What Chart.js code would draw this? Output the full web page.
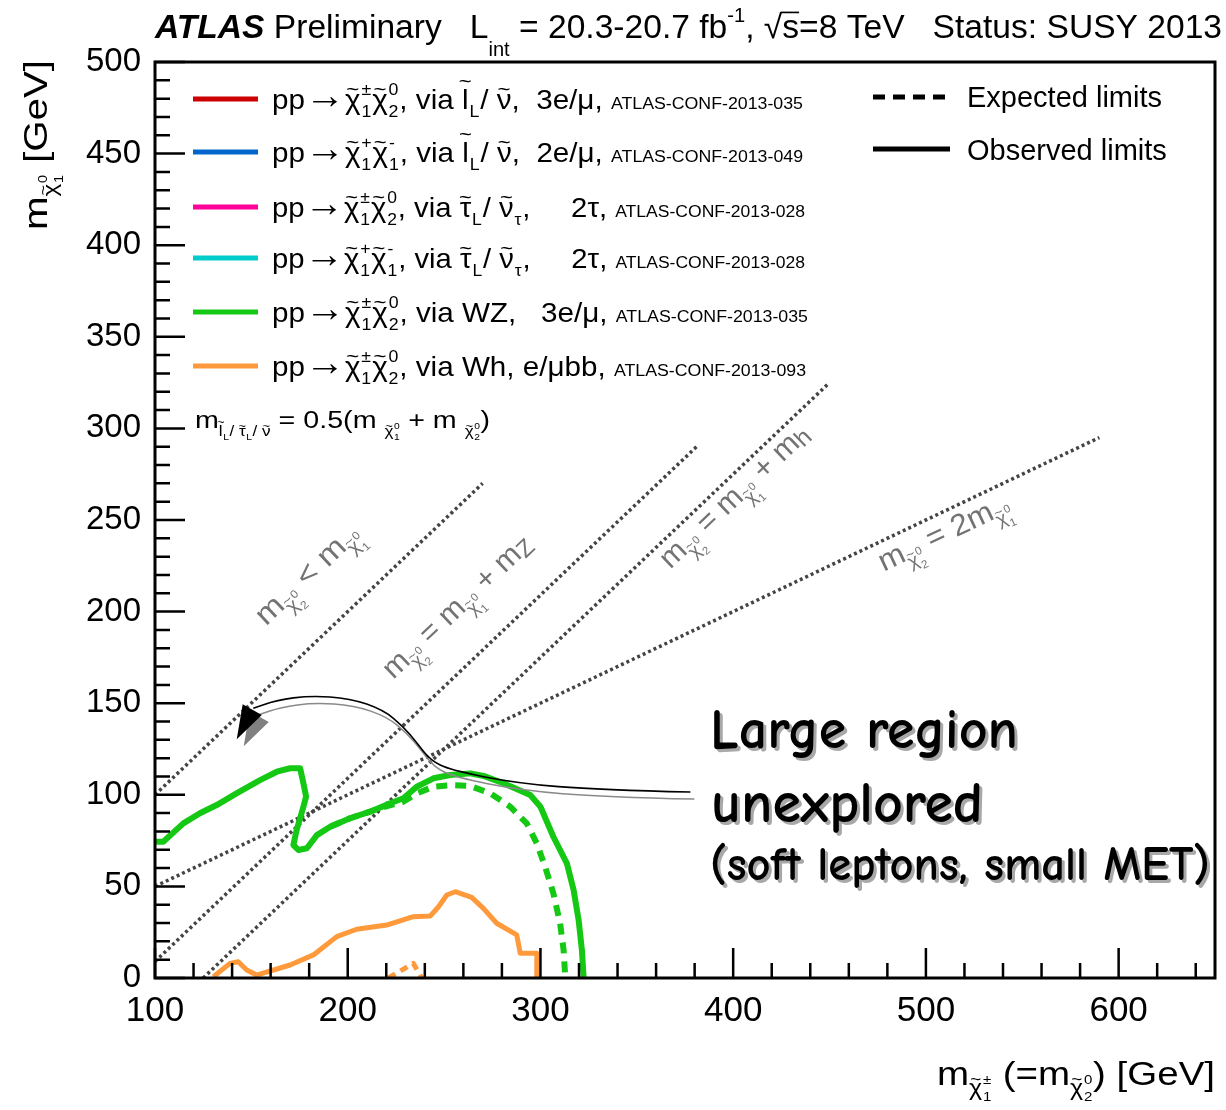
<!DOCTYPE html>
<html>
<head>
<meta charset="utf-8">
<title>Electroweak SUSY limits</title>
<script src="https://cdn.jsdelivr.net/npm/chart.js@4.4.0/dist/chart.umd.min.js"></script>
<style>
  html, body { margin: 0; padding: 0; background: #fff; }
  canvas { display: block; }
</style>
</head>
<body>
<canvas id="limits" width="1226" height="1110"></canvas>
<script>
// exclusion contours, x = chargino mass, y = LSP mass [GeV]
const wzObserved = [[100, 74.4], [104.3, 74.4], [114.7, 84.4], [123.3, 89.9], [132, 94.4], [142.3, 100.8], [154.5, 108], [163.2, 112.6], [170.1, 114.5], [175.3, 114.5], [177, 106.3], [178.4, 99], [177, 93.5], [173.5, 80.8], [171.8, 72.6], [174.4, 69.9], [178.8, 70.8], [184, 78], [190.9, 82.6], [201.2, 87.2], [211.6, 90.8], [222, 95.4], [228.9, 98.1], [235.8, 104.4], [244.5, 109], [253.2, 110.8], [263.6, 111.7], [270.5, 110.3], [280.8, 106.3], [294.7, 99.9], [300, 93.5], [306.7, 77.1], [313.7, 62.6], [317.2, 48], [319.8, 31.7], [321.5, 15.3], [322.4, 0]];
const wzExpected = [[190.9, 82.6], [201.2, 87.2], [211.6, 90.8], [216.8, 92.8], [228.8, 96.2], [235.8, 100.8], [244.5, 104.4], [253.2, 105.3], [263.6, 104.8], [274, 100.8], [284.3, 93.5], [292.9, 84.4], [298.1, 73.5], [302.4, 60.8], [306.7, 46.2], [310.2, 29.9], [312, 15.3], [312.9, 0]];
const whObserved = [[130.3, 0.7], [138.9, 8], [143.2, 8.9], [147.6, 4.4], [152.7, 1.6], [170.1, 7.1], [182.2, 12.6], [194.3, 22.6], [204.6, 26.6], [220.2, 28.9], [234, 33.5], [242.8, 33.8], [247.1, 38.9], [251.4, 45.3], [255.8, 47.1], [264.3, 44], [270.4, 38], [277.3, 29.9], [287.7, 23.5], [289.5, 13.5], [298.1, 13.5], [298.1, 0]];
const whExpected = [[221.1, 0], [234, 8], [238.4, 0]];

// kinematic reference lines
const lineDegenerate = [[100, 100], [270, 270]];
const lineMZ = [[100, 9], [381, 290]];
const lineMh = [[125, 0], [449, 324]];
const lineHalf = [[100, 50], [590, 295]];

const xTicks = [100, 200, 300, 400, 500, 600];
const yTicks = [0, 50, 100, 150, 200, 250, 300, 350, 400, 450, 500];

// curved arrow into the compressed region
const arrowPath = [[377.8, 101.5], [331, 102.6], [287.8, 106.3], [253.2, 113.5], [242.8, 119], [235.9, 128.3], [228.9, 137.2], [218.5, 146.3], [201.2, 152.7], [180.5, 154.1], [163.2, 151.7], [151, 147.2]];
const arrowHead = [[142.4, 130.3], [145.5, 149.4], [155.4, 143.6]];

const GREEN = '#14c814';
const ORANGE = '#ff9a3c';
const DOT = '#444';
const SANS = '"Liberation Sans", Arial, sans-serif';

const chi = (sup, sub) => ({ t: 'χ', tilde: true, sup, sub });
const chiSmall = (sup, sub) => ({ t: 'χ', s: 0.62, dy: -0.3, tilde: true, sup, sub });
const pp = [{ t: 'pp' }, { t: '→', s: 1.35, dy: 0.02 }];

const legendColors = ['#cc0000', '#0066cc', '#ff0099', '#00cccc', GREEN, ORANGE];
const legendText = [
  [...pp, chi('±', '1'), chi('0', '2'), { t: ', via ' }, { t: 'l', tilde: true, tl: 1.0, sub: 'L' }, { t: '/ ' }, { t: 'ν', tilde: true }, { t: ',  3e/μ, ' }],
  [...pp, chi('+', '1'), chi('-', '1'), { t: ', via ' }, { t: 'l', tilde: true, tl: 1.0, sub: 'L' }, { t: '/ ' }, { t: 'ν', tilde: true }, { t: ',  2e/μ, ' }],
  [...pp, chi('±', '1'), chi('0', '2'), { t: ', via ' }, { t: 'τ', tilde: true, sub: 'L' }, { t: '/ ' }, { t: 'ν', tilde: true, sub: 'τ' }, { t: ',     2τ, ' }],
  [...pp, chi('+', '1'), chi('-', '1'), { t: ', via ' }, { t: 'τ', tilde: true, sub: 'L' }, { t: '/ ' }, { t: 'ν', tilde: true, sub: 'τ' }, { t: ',     2τ, ' }],
  [...pp, chi('±', '1'), chi('0', '2'), { t: ', via WZ,   3e/μ, ' }],
  [...pp, chi('±', '1'), chi('0', '2'), { t: ', via Wh, e/μbb, ' }]
];
const legendRefs = ['ATLAS-CONF-2013-035', 'ATLAS-CONF-2013-049', 'ATLAS-CONF-2013-028', 'ATLAS-CONF-2013-028', 'ATLAS-CONF-2013-035', 'ATLAS-CONF-2013-093'];

const diagLabels = [
  { line: lineDegenerate, at: [157.6, 191.8], w: 132, parts: [{ t: 'm' }, chiSmall('0', '2'), { t: ' < m' }, chiSmall('0', '1')] },
  { line: lineMZ, at: [223.6, 162.7], w: 194, parts: [{ t: 'm' }, chiSmall('0', '2'), { t: ' = m' }, chiSmall('0', '1'), { t: ' + m' }, { t: 'Z', s: 0.8, dy: -0.12 }] },
  { line: lineMh, at: [367.4, 222.9], w: 194, parts: [{ t: 'm' }, chiSmall('0', '2'), { t: ' = m' }, chiSmall('0', '1'), { t: ' + m' }, { t: 'h', s: 0.8, dy: -0.12 }] },
  { line: lineHalf, at: [478.1, 221.8], w: 142, parts: [{ t: 'm' }, chiSmall('0', '2'), { t: ' = 2m' }, chiSmall('0', '1')] }
];

function partFont(p, size, family) {
  return `${p.w || 'normal'} ${size}px ${family}`;
}

function partWidth(ctx, p, size, family) {
  const s = size * (p.s || 1);
  ctx.font = partFont(p, s, family);
  let w = ctx.measureText(p.t).width;
  if (p.sup || p.sub) {
    ctx.font = partFont({}, s * 0.6, family);
    const a = p.sup ? ctx.measureText(p.sup).width : 0;
    const b = p.sub ? ctx.measureText(p.sub).width : 0;
    w += Math.max(a, b) + s * 0.06;
  }
  return w;
}

// text with tildes, super- and subscripts, optionally squeezed to a width
function drawRich(ctx, parts, x, y, size, family, targetW, color) {
  ctx.save();
  const total = parts.reduce((a, p) => a + partWidth(ctx, p, size, family), 0);
  ctx.translate(x, y);
  if (targetW) ctx.scale(targetW / total, 1);
  ctx.fillStyle = color || '#000';
  ctx.textBaseline = 'alphabetic';
  ctx.textAlign = 'left';
  let cx = 0;
  parts.forEach(p => {
    const s = size * (p.s || 1);
    const by = -(p.dy || 0) * size;
    ctx.font = partFont(p, s, family);
    const mw = ctx.measureText(p.t).width;
    ctx.fillText(p.t, cx, by);
    if (p.tilde) {
      const ts = s * 0.75;
      ctx.font = partFont({}, ts, family);
      const tw = ctx.measureText('~').width;
      ctx.fillText('~', cx + (mw - tw) / 2, by - (p.tl || 0.72) * s + 0.33 * ts);
    }
    if (p.over) ctx.fillRect(cx - s * 0.05, by - s * 0.8, mw + s * 0.05, s * 0.05);
    let adv = mw;
    if (p.sup || p.sub) {
      const ss = s * 0.6;
      ctx.font = partFont({}, ss, family);
      if (p.sup) ctx.fillText(p.sup, cx + mw + s * 0.03, by - s * 0.5);
      if (p.sub) ctx.fillText(p.sub, cx + mw + s * 0.03, by + s * 0.3);
      const a = p.sup ? ctx.measureText(p.sup).width : 0;
      const b = p.sub ? ctx.measureText(p.sub).width : 0;
      adv += Math.max(a, b) + s * 0.06;
    }
    cx += adv;
  });
  ctx.restore();
}

function smoothPath(ctx, pts) {
  ctx.beginPath();
  ctx.moveTo(pts[0][0], pts[0][1]);
  for (let i = 1; i < pts.length - 1; i++) {
    const mx = (pts[i][0] + pts[i + 1][0]) / 2;
    const my = (pts[i][1] + pts[i + 1][1]) / 2;
    ctx.quadraticCurveTo(pts[i][0], pts[i][1], mx, my);
  }
  const last = pts[pts.length - 1];
  ctx.lineTo(last[0], last[1]);
  ctx.stroke();
}

const overlay = {
  id: 'overlay',
  afterDraw(chart) {
    const { ctx, chartArea: a, scales: { x, y } } = chart;
    const px = ([vx, vy]) => [x.getPixelForValue(vx), y.getPixelForValue(vy)];

    ctx.save();
    // ticks pointing into the frame
    ctx.strokeStyle = '#000';
    ctx.lineWidth = 2.5;
    ctx.beginPath();
    for (let v = 100; v <= 650; v += 20) {
      const len = xTicks.includes(v) ? 30 : 15;
      const p = x.getPixelForValue(v);
      ctx.moveTo(p, a.bottom); ctx.lineTo(p, a.bottom - len);
    }
    for (let v = 0; v <= 500; v += 10) {
      const len = yTicks.includes(v) ? 30 : 15;
      const p = y.getPixelForValue(v);
      ctx.moveTo(a.left, p); ctx.lineTo(a.left + len, p);
    }
    ctx.stroke();
    ctx.lineWidth = 3;
    ctx.strokeRect(a.left, a.top, a.right - a.left, a.bottom - a.top);

    // labels along the kinematic lines
    diagLabels.forEach(d => {
      const p0 = px(d.line[0]), p1 = px(d.line[1]);
      const ang = Math.atan2(p1[1] - p0[1], p1[0] - p0[0]);
      const at = px(d.at);
      ctx.save();
      ctx.translate(at[0], at[1]);
      ctx.rotate(ang);
      drawRich(ctx, d.parts, 0, 0, 30, SANS, d.w, '#737373');
      ctx.restore();
    });

    // arrow with its grey shadow
    const path = arrowPath.map(px);
    const head = arrowHead.map(px);
    ctx.lineWidth = 1.5;
    ctx.strokeStyle = '#8a8a8a';
    ctx.save(); ctx.translate(4, 7); smoothPath(ctx, path); ctx.restore();
    ctx.fillStyle = '#808080';
    ctx.beginPath();
    head.forEach(([hx, hy], i) => (i ? ctx.lineTo(hx + 7, hy + 7) : ctx.moveTo(hx + 7, hy + 7)));
    ctx.closePath(); ctx.fill();
    ctx.strokeStyle = '#000';
    ctx.lineWidth = 1.6;
    smoothPath(ctx, path);
    ctx.fillStyle = '#000';
    ctx.beginPath();
    head.forEach(([hx, hy], i) => (i ? ctx.lineTo(hx, hy) : ctx.moveTo(hx, hy)));
    ctx.closePath(); ctx.fill();

    // process legend
    const rowY = [99, 152, 207, 258, 312, 366];
    const rowEnd = [803, 803, 805, 805, 808, 806];
    legendText.forEach((parts, i) => {
      ctx.strokeStyle = legendColors[i];
      ctx.lineWidth = 5;
      ctx.beginPath(); ctx.moveTo(193, rowY[i]); ctx.lineTo(258, rowY[i]); ctx.stroke();
      drawRich(ctx, parts.concat([{ t: legendRefs[i], s: 0.6 }]), 272, rowY[i] + 10, 28, SANS, rowEnd[i] - 272);
    });
    drawRich(ctx, [{ t: 'm' }, { t: 'l', s: 0.6, dy: -0.35, tilde: true, tl: 1.0, sub: 'L' }, { t: '/ ', s: 0.6, dy: -0.35 },
      { t: 'τ', s: 0.6, dy: -0.35, tilde: true, sub: 'L' }, { t: '/ ', s: 0.6, dy: -0.35 }, { t: 'ν', s: 0.6, dy: -0.35, tilde: true },
      { t: ' = 0.5(m ' }, { t: 'χ', s: 0.6, dy: -0.35, tilde: true, sup: '0', sub: '1' }, { t: ' + m ' },
      { t: 'χ', s: 0.6, dy: -0.35, tilde: true, sup: '0', sub: '2' }, { t: ')' }], 195, 428, 23, SANS, 295);

    // line style legend
    ctx.strokeStyle = '#000';
    ctx.lineWidth = 5;
    ctx.setLineDash([12, 8]);
    ctx.beginPath(); ctx.moveTo(873, 97); ctx.lineTo(952, 97); ctx.stroke();
    ctx.setLineDash([]);
    ctx.beginPath(); ctx.moveTo(873, 149); ctx.lineTo(950, 149); ctx.stroke();
    ctx.fillStyle = '#000';
    ctx.font = `29px ${SANS}`;
    ctx.textBaseline = 'alphabetic';
    ctx.fillText('Expected limits', 967, 107, 204);
    ctx.fillText('Observed limits', 967, 160, 209);

    // header
    drawRich(ctx, [{ t: 'ATLAS', w: 'italic bold' }, { t: ' Preliminary   L' }, { t: 'int', s: 0.6, dy: -0.55 },
      { t: ' = 20.3-20.7 fb' }, { t: '-1', s: 0.6, dy: 0.5 }, { t: ', √' }, { t: 's', over: true },
      { t: '=8 TeV   Status: SUSY 2013' }], 155, 38, 33, SANS, 1067);

    // axis titles
    drawRich(ctx, [{ t: 'm' }, { t: 'χ', s: 0.65, dy: -0.3, tilde: true, sup: '±', sub: '1' }, { t: ' (=m' },
      { t: 'χ', s: 0.65, dy: -0.3, tilde: true, sup: '0', sub: '2' }, { t: ') [GeV]' }], 937, 1085, 33, SANS, 278);
    ctx.save();
    ctx.translate(47, 230);
    ctx.rotate(-Math.PI / 2);
    drawRich(ctx, [{ t: 'm' }, { t: 'χ', s: 0.6, dy: -0.3, tilde: true, sup: '0', sub: '1' }, { t: ' [GeV]' }], 0, 0, 33, SANS, 170);
    ctx.restore();

    // comment on the uncovered region
    const note = [['Large region', 710, 748, 56, 308], ['unexplored', 711, 822, 58, 272], ['(soft leptons, small MET)', 710, 880, 48, 500]];
    note.forEach(([t, tx, ty, fs, w]) => {
      ctx.font = `bold ${fs}px "Comic Sans MS", "Comic Neue", "DejaVu Sans", sans-serif`;
      ctx.fillStyle = '#a8a8a8';
      ctx.fillText(t, tx + 3, ty + 3, w);
      ctx.fillStyle = '#000';
      ctx.fillText(t, tx, ty, w);
    });
    ctx.restore();
  }
};

const toXY = pts => pts.map(([x, y]) => ({ x, y }));
function series(data, color, width, dash) {
  return {
    data: toXY(data), showLine: true, borderColor: color, borderWidth: width,
    borderDash: dash || [], pointRadius: 0, fill: false, tension: 0, borderJoinStyle: 'round'
  };
}

new Chart(document.getElementById('limits'), {
  type: 'scatter',
  data: {
    datasets: [
      series(wzObserved, GREEN, 6),
      series(wzExpected, GREEN, 6, [11, 8]),
      series(whObserved, ORANGE, 5),
      series(whExpected, ORANGE, 5, [8, 6]),
      series(lineDegenerate, DOT, 3.5, [3, 3]),
      series(lineMZ, DOT, 3.5, [3, 3]),
      series(lineMh, DOT, 3.5, [3, 3]),
      series(lineHalf, DOT, 3.5, [3, 3])
    ]
  },
  options: {
    responsive: false,
    animation: false,
    layout: { padding: { top: 62, right: 11, left: 0, bottom: 0 } },
    plugins: { legend: { display: false }, tooltip: { enabled: false } },
    scales: {
      x: {
        type: 'linear', min: 100, max: 650,
        grid: { display: false, drawTicks: false }, border: { display: false },
        afterBuildTicks: s => { s.ticks = xTicks.map(v => ({ value: v })); },
        afterFit: s => { s.height = 132; },
        ticks: { autoSkip: false, maxRotation: 0, padding: 12, color: '#000', font: { family: SANS, size: 35 }, callback: v => String(v) }
      },
      y: {
        type: 'linear', min: 0, max: 500,
        grid: { display: false, drawTicks: false }, border: { display: false },
        afterBuildTicks: s => { s.ticks = yTicks.map(v => ({ value: v })); },
        afterFit: s => { s.width = 155; },
        ticks: { autoSkip: false, padding: 14, color: '#000', font: { family: SANS, size: 33 }, callback: v => String(v) }
      }
    }
  },
  plugins: [overlay]
});
</script>
</body>
</html>
